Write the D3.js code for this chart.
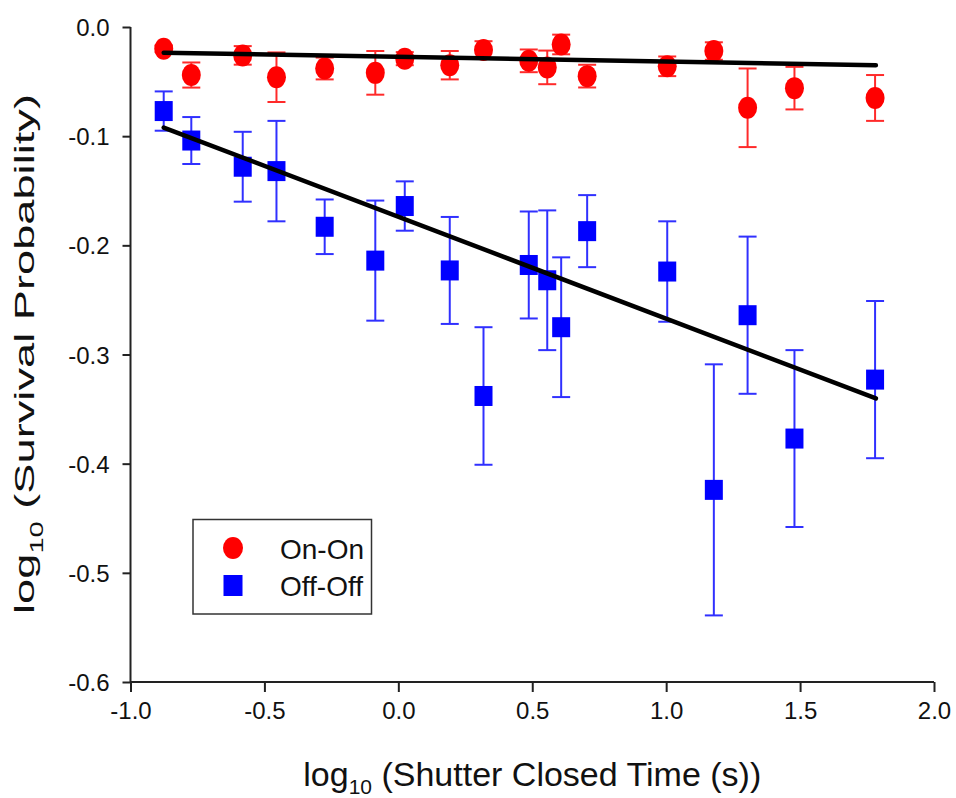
<!DOCTYPE html>
<html>
<head>
<meta charset="utf-8">
<script src="https://cdn.jsdelivr.net/npm/d3@7"></script>
<style>
  html, body { margin: 0; padding: 0; background: #fff; }
  svg { display: block; font-family: "Liberation Sans", Arial, sans-serif; }
</style>
</head>
<body>
<svg id="chart" width="956" height="798"></svg>
<script>
// ---- data ----
const timeX = [-0.876, -0.773, -0.581, -0.455, -0.275, -0.086, 0.024, 0.192, 0.318, 0.487, 0.556, 0.608, 0.705, 1.004, 1.178, 1.304, 1.479, 1.780];
const onOnY   = [-0.020, -0.044, -0.026, -0.046, -0.038, -0.042, -0.029, -0.035, -0.021, -0.031, -0.037, -0.016, -0.045, -0.036, -0.022, -0.074, -0.056, -0.065];
const onOnErr = [0.003, 0.0115, 0.0085, 0.0227, 0.010, 0.020, 0.006, 0.013, 0.008, 0.0104, 0.0154, 0.009, 0.0104, 0.009, 0.008, 0.036, 0.0195, 0.021];
const offOffY   = [-0.077, -0.104, -0.128, -0.132, -0.183, -0.214, -0.164, -0.223, -0.338, -0.218, -0.232, -0.275, -0.187, -0.224, -0.424, -0.264, -0.377, -0.323];
const offOffErr = [0.018, 0.0215, 0.032, 0.046, 0.025, 0.055, 0.0226, 0.049, 0.063, 0.049, 0.064, 0.064, 0.033, 0.046, 0.115, 0.072, 0.081, 0.072];
const fitX = [-0.876, 1.783];
const onOnFitY = [-0.0235, -0.0351];
const offOffFitY = [-0.0921, -0.3402];
const xTicks = [-1.0, -0.5, 0.0, 0.5, 1.0, 1.5, 2.0];
const yTicks = [0.0, -0.1, -0.2, -0.3, -0.4, -0.5, -0.6];
const seriesNames = ["On-On", "Off-Off"];

// ---- layout ----
const svg = d3.select("#chart");
const x = d3.scaleLinear().domain([-1, 2]).range([130.5, 934]);
const y = d3.scaleLinear().domain([-0.6, 0]).range([682, 27]);
const axisColor = "#222";
const fmt = d => d3.format(".1f")(d).replace("\u2212", "-");

// axes
const xAxis = svg.append("g").attr("transform", `translate(0,${y(-0.6)})`)
  .call(d3.axisBottom(x).tickValues(xTicks).tickSize(10).tickPadding(22).tickFormat(fmt));
const yAxis = svg.append("g").attr("transform", `translate(${x(-1)},0)`)
  .call(d3.axisLeft(y).tickValues(yTicks).tickSize(8).tickPadding(13).tickFormat(fmt));
[xAxis, yAxis].forEach(a => {
  a.select(".domain").attr("stroke", axisColor).attr("stroke-width", 2);
  a.selectAll(".tick line").attr("stroke", axisColor).attr("stroke-width", 2);
  a.selectAll(".tick text").attr("fill", "#111").style("font-size", "24px")
   .style("font-family", "'Liberation Sans', Arial, sans-serif");
});
xAxis.select(".domain").attr("d", `M${x(-1)},0H${x(2)}`);
yAxis.select(".domain").attr("d", `M0,${y(0)}V${y(-0.6)}`);
xAxis.selectAll(".tick text").attr("dy", "0.2em");
yAxis.selectAll(".tick text").attr("dy", "0.36em");

// error bars
const capW = 9;
function errorBars(ys, errs, color) {
  const g = svg.append("g").attr("stroke", color).attr("stroke-width", 2).attr("fill", "none");
  timeX.forEach((xv, i) => {
    const cx = x(xv), y1 = y(ys[i] + errs[i]), y2 = y(ys[i] - errs[i]);
    g.append("line").attr("x1", cx).attr("x2", cx).attr("y1", y1).attr("y2", y2);
    g.append("line").attr("x1", cx - capW).attr("x2", cx + capW).attr("y1", y1).attr("y2", y1);
    g.append("line").attr("x1", cx - capW).attr("x2", cx + capW).attr("y1", y2).attr("y2", y2);
  });
}
errorBars(onOnY, onOnErr, "#ff2a2a");
errorBars(offOffY, offOffErr, "#3030ff");

// markers
svg.append("g").selectAll("ellipse").data(timeX).join("ellipse")
  .attr("cx", d => x(d)).attr("cy", (d, i) => y(onOnY[i]))
  .attr("rx", 9.5).attr("ry", 11).attr("fill", "#ff0000");
svg.append("g").selectAll("rect").data(timeX).join("rect")
  .attr("x", d => x(d) - 9).attr("y", (d, i) => y(offOffY[i]) - 10)
  .attr("width", 18).attr("height", 20).attr("fill", "#0000ff");

// fit lines
const line = d3.line().x(d => x(d[0])).y(d => y(d[1]));
[onOnFitY, offOffFitY].forEach(fy => {
  svg.append("path").datum(fitX.map((xv, i) => [xv, fy[i]]))
    .attr("d", line).attr("stroke", "#000").attr("stroke-width", 4.5)
    .attr("stroke-linecap", "round").attr("fill", "none");
});

// x title
const xt = svg.append("text").attr("x", (x(-1) + x(2)) / 2).attr("y", 786)
  .attr("text-anchor", "middle").style("font-size", "34px").attr("fill", "#111");
xt.append("tspan").text("log");
xt.append("tspan").text("10").style("font-size", "21px").attr("dy", 8);
xt.append("tspan").text(" (Shutter Closed Time (s))").attr("dy", -8);

// y title (stretched along its length, as in the reference)
const ytG = svg.append("g").attr("transform", "translate(34,354) rotate(-90)");
const ytInner = ytG.append("g");
const yt = ytInner.append("text").attr("x", 0).attr("y", 0)
  .attr("text-anchor", "middle").style("font-size", "28px").attr("fill", "#111");
yt.append("tspan").text("log");
yt.append("tspan").text("10").style("font-size", "18px").attr("dy", 9);
yt.append("tspan").text(" (Survival Probability)").attr("dy", -9);
const ytLen = yt.node().getBBox().width;
ytInner.attr("transform", `scale(${520 / ytLen},1)`);

// legend
const lg = svg.append("g");
lg.append("rect").attr("x", 193).attr("y", 519.5).attr("width", 178.5).attr("height", 94.5)
  .attr("fill", "#fff").attr("stroke", "#333").attr("stroke-width", 1.5);
lg.append("ellipse").attr("cx", 233).attr("cy", 548).attr("rx", 10).attr("ry", 11).attr("fill", "#ff0000");
lg.append("rect").attr("x", 223.5).attr("y", 575).attr("width", 19).attr("height", 21).attr("fill", "#0000ff");
lg.selectAll("text.lbl").data(seriesNames).join("text").attr("class", "lbl")
  .attr("x", 280).attr("y", (d, i) => 559 + i * 37)
  .style("font-size", "28px").attr("fill", "#111").text(d => d);
</script>
</body>
</html>
